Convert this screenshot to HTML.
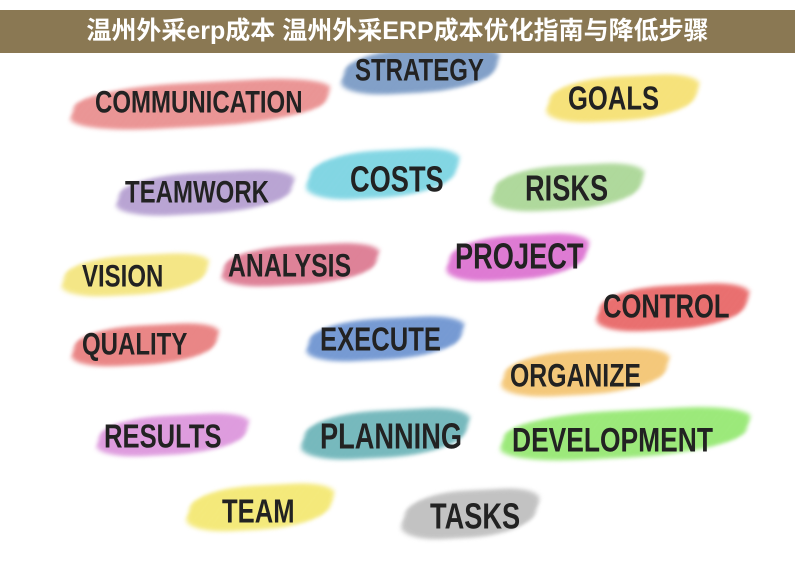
<!DOCTYPE html>
<html><head><meta charset="utf-8"><style>
body{margin:0;width:795px;height:569px;background:#fff;position:relative;overflow:hidden;font-family:"Liberation Sans Narrow","Liberation Sans",sans-serif}
.bar{position:absolute;left:0;top:10px;width:795px;height:43px;background:#8a7853;color:#fff;font:bold 25px "Liberation Sans","Noto Sans CJK SC",sans-serif;text-align:center;line-height:43px;z-index:5}
.b{position:absolute;border-radius:40% 30% 45% 35%;opacity:.8;filter:blur(2px);transform:skewX(-20deg) rotate(-3deg)}
.b::after{content:"";position:absolute;inset:0;background:repeating-linear-gradient(115deg,rgba(255,255,255,.35) 0 2px,transparent 2px 5px)}
.t{position:absolute;color:#222;font-weight:bold;font-size:30px;letter-spacing:0;white-space:nowrap;line-height:1;transform:scale(.8,1.05);transform-origin:left center}
</style></head><body>
<div class="bar">温州外采erp成本 温州外采ERP成本优化指南与降低步骤</div>

<div class="b" style="left:345px;top:48px;width:150px;height:45px;background:#4a76b0"></div>
<div class="t" style="left:355px;top:56px;font-size:30px">STRATEGY</div>

<div class="b" style="left:75px;top:82px;width:250px;height:45px;background:#e26666"></div>
<div class="t" style="left:95px;top:88px">COMMUNICATION</div>

<div class="b" style="left:550px;top:76px;width:145px;height:45px;background:#f2d640"></div>
<div class="t" style="left:568px;top:82px;font-size:32px">GOALS</div>

<div class="b" style="left:120px;top:172px;width:170px;height:42px;background:#9a7cc0"></div>
<div class="t" style="left:125px;top:178px;font-size:30px">TEAMWORK</div>

<div class="b" style="left:310px;top:150px;width:145px;height:48px;background:#4cc4d8"></div>
<div class="t" style="left:350px;top:163px;font-size:34px">COSTS</div>

<div class="b" style="left:495px;top:165px;width:145px;height:45px;background:#8cc870"></div>
<div class="t" style="left:525px;top:172px;font-size:34px">RISKS</div>

<div class="b" style="left:65px;top:255px;width:140px;height:40px;background:#f0dc50"></div>
<div class="t" style="left:82px;top:262px;font-size:30px">VISION</div>

<div class="b" style="left:225px;top:245px;width:150px;height:40px;background:#d04a6a"></div>
<div class="t" style="left:228px;top:250px;font-size:31px">ANALYSIS</div>

<div class="b" style="left:450px;top:235px;width:135px;height:45px;background:#d040c0"></div>
<div class="t" style="left:455px;top:240px;font-size:34px">PROJECT</div>

<div class="b" style="left:600px;top:285px;width:145px;height:45px;background:#e03030"></div>
<div class="t" style="left:603px;top:290px;font-size:32px">CONTROL</div>

<div class="b" style="left:75px;top:325px;width:140px;height:40px;background:#e05050"></div>
<div class="t" style="left:82px;top:330px;font-size:30px">QUALITY</div>

<div class="b" style="left:310px;top:318px;width:150px;height:42px;background:#3a6ec0"></div>
<div class="t" style="left:320px;top:323px;font-size:32px">EXECUTE</div>

<div class="b" style="left:505px;top:350px;width:160px;height:45px;background:#f0b040"></div>
<div class="t" style="left:510px;top:360px;font-size:31px">ORGANIZE</div>

<div class="b" style="left:100px;top:415px;width:145px;height:40px;background:#d070d0"></div>
<div class="t" style="left:104px;top:420px;font-size:32px">RESULTS</div>

<div class="b" style="left:305px;top:410px;width:160px;height:48px;background:#3a9aa0"></div>
<div class="t" style="left:320px;top:420px;font-size:34px">PLANNING</div>

<div class="b" style="left:505px;top:410px;width:240px;height:48px;background:#70e040"></div>
<div class="t" style="left:512px;top:423px;font-size:33px">DEVELOPMENT</div>

<div class="b" style="left:190px;top:485px;width:140px;height:45px;background:#f0e040"></div>
<div class="t" style="left:222px;top:495px;font-size:32px">TEAM</div>

<div class="b" style="left:405px;top:490px;width:130px;height:48px;background:#a8a8a8"></div>
<div class="t" style="left:430px;top:500px;font-size:34px">TASKS</div>
</body></html>
